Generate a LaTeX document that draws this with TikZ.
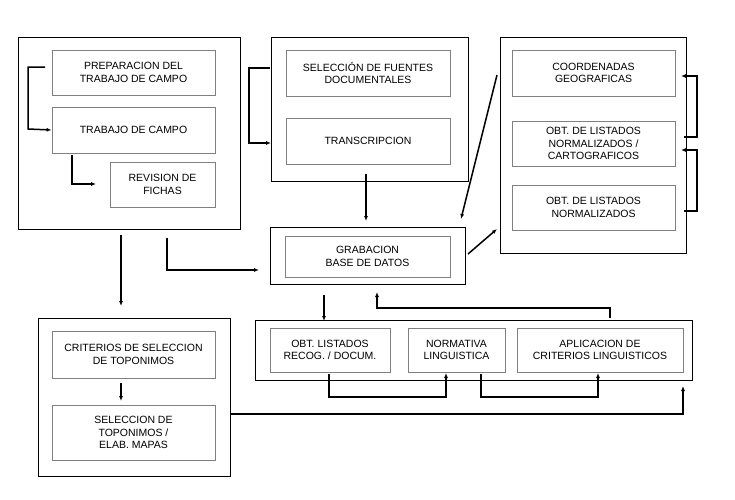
\documentclass[tikz,border=0pt]{standalone}
\usepackage{fontspec}
\setmainfont{Liberation Sans}
\usetikzlibrary{arrows.meta}
\begin{document}
\begin{tikzpicture}[x=1pt,y=-1pt,
 outer/.style={draw=black,line width=1pt},
 inner/.style={draw=gray,line width=0.8pt,align=center,font=\fontsize{10.5}{12.5}\selectfont},
 ar/.style={line width=1.5pt,-{Latex[length=5pt,width=4pt]}}]
\useasboundingbox (0,0) rectangle (735,499);
\draw[outer] (18,37) rectangle (240,229);
\draw[outer] (271,37) rectangle (468,181);
\draw[outer] (270,227) rectangle (465,284);
\draw[outer] (500,37) rectangle (686,253);
\draw[outer] (255,320) rectangle (692,380);
\draw[outer] (38,318) rectangle (230,476);
\newcommand\ibox[4]{\node[inner,minimum width=#3,minimum height=#4,inner sep=0pt] (#1) at (#2) {};}
\node[inner,minimum width=163,minimum height=45] (prep) at (133.5,72.5) {PREPARACION DEL\\TRABAJO DE CAMPO};
\node[inner,minimum width=163,minimum height=46] (trab) at (133.5,130) {TRABAJO DE CAMPO};
\node[inner,minimum width=105,minimum height=45] (rev) at (162.5,184.5) {REVISION DE\\FICHAS};
\node[inner,minimum width=164,minimum height=46] (sel) at (368,73) {SELECCIÓN DE FUENTES\\DOCUMENTALES};
\node[inner,minimum width=164,minimum height=46] (tra) at (368,141) {TRANSCRIPCION};
\node[inner,minimum width=165,minimum height=41] (grab) at (367.5,256.5) {GRABACION\\BASE DE DATOS};
\node[inner,minimum width=163,minimum height=46] (coor) at (593.5,73) {COORDENADAS\\GEOGRAFICAS};
\node[inner,minimum width=163,minimum height=45] (ob1) at (593.5,143.5) {OBT. DE LISTADOS\\NORMALIZADOS /\\CARTOGRAFICOS};
\node[inner,minimum width=163,minimum height=45] (ob2) at (593.5,207.5) {OBT. DE LISTADOS\\NORMALIZADOS};
\node[inner,minimum width=120,minimum height=44] (obt) at (330,350) {OBT. LISTADOS\\RECOG. / DOCUM.};
\node[inner,minimum width=97,minimum height=44] (norm) at (456.5,350) {NORMATIVA\\LINGUISTICA};
\node[inner,minimum width=166,minimum height=44] (apl) at (600,350) {APLICACION DE\\CRITERIOS LINGUISTICOS};
\node[inner,minimum width=163,minimum height=47] (crit) at (133.5,354.5) {CRITERIOS DE SELECCION\\DE TOPONIMOS};
\node[inner,minimum width=163,minimum height=55] (sele) at (133.5,432.5) {SELECCION DE\\TOPONIMOS /\\ELAB. MAPAS};
\coordinate (c1) at (28,67);
\draw[ar] (45,67) -- (28,67) -- (28,129) -- (trab.west);
\draw[ar] (72,155) -- (72,184) -- (96,184);
\draw[ar] (270,68) -- (249,68) -- (249,143) -- (271,143);
\draw[ar] (366,174) -- (366,221);
\draw[ar] (167,238) -- (167,270) -- (259,270);
\draw[ar] (121,235) -- (121,306);
\draw[ar] (684,137) -- (697,137) -- (697,76) -- (681,76);
\draw[ar] (684,211) -- (697,211) -- (697,150) -- (681,150);
\draw[ar] (497,75) -- (461,219);
\draw[ar] (468,254) -- (497,229);
\draw[ar] (324,295) -- (324,321);
\draw[ar] (610,318) -- (610,308) -- (377,308) -- (377,292);
\draw[ar] (329,374) -- (329,397) -- (446,397) -- (446,373);
\draw[ar] (481,374) -- (481,397) -- (598,397) -- (598,373);
\draw[ar] (121,383) -- (121,401);
\draw[ar] (230,414) -- (683,414) -- (683,386);
\end{tikzpicture}
\end{document}
